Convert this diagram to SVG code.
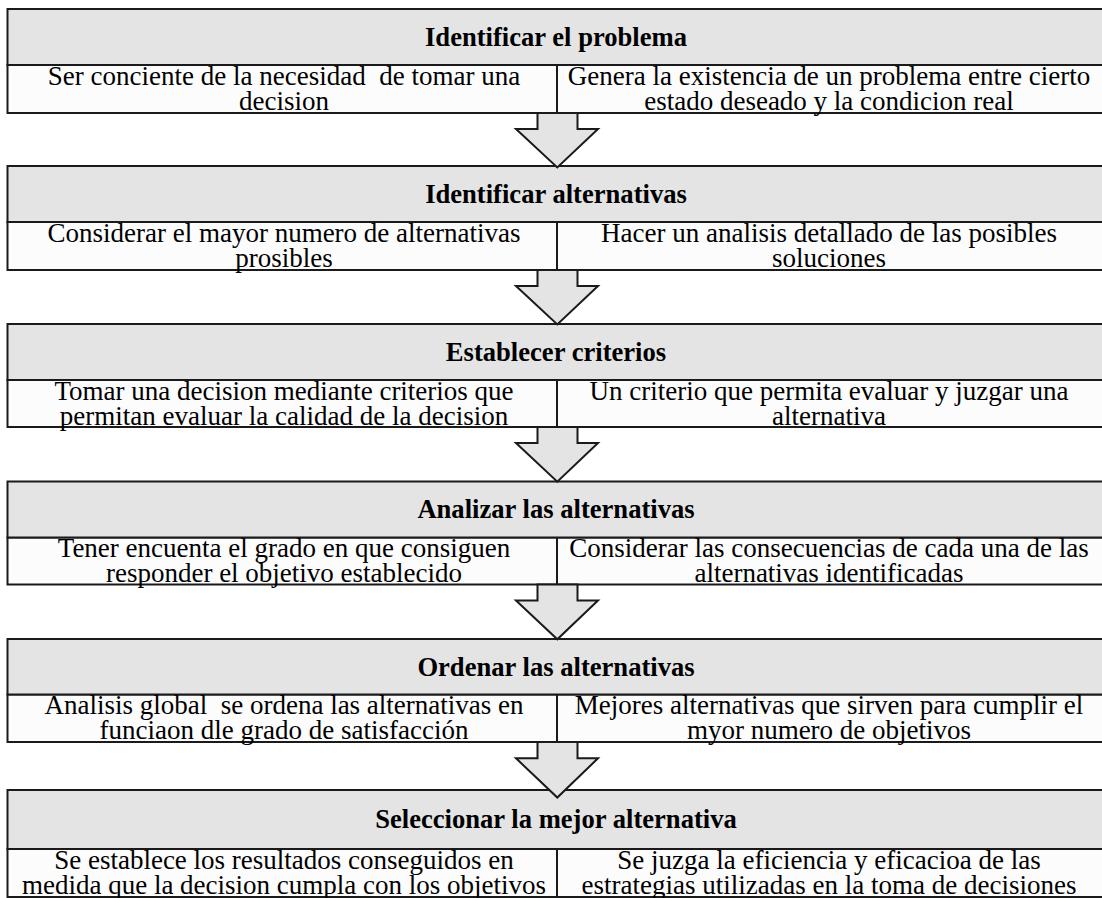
<svg xmlns="http://www.w3.org/2000/svg" width="1102" height="898" viewBox="0 0 1102 898">
<style>
.hd{fill:#e4e4e4;stroke:#1a1a1a;stroke-width:2}
.sb{fill:#fcfcfc;stroke:#1a1a1a;stroke-width:2}
.ln{stroke:#1a1a1a;stroke-width:2}
.ar{fill:#e4e4e4;stroke:#1a1a1a;stroke-width:2;stroke-linejoin:miter}
text{font-family:"Liberation Serif",serif;fill:#000;white-space:pre;text-anchor:middle}
.t{font-size:26.6px;font-weight:bold}
.b{font-size:27px;font-weight:normal}
</style>
<rect width="1102" height="898" fill="#fff"/>

<g id="stage1">
<rect class="sb" x="7.5" y="65" width="1096" height="48"/>
<line class="ln" x1="557" y1="65" x2="557" y2="113"/>
<rect class="hd" x="7.5" y="9" width="1096" height="56"/>
<text class="t" x="556" y="45.5">Identificar el problema</text>
<text class="b" x="284" y="85">Ser conciente de la necesidad  de tomar una</text>
<text class="b" x="284" y="110">decision</text>
<text class="b" x="829" y="85">Genera la existencia de un problema entre cierto</text>
<text class="b" x="829" y="110">estado deseado y la condicion real</text>
</g>

<g id="stage2">
<rect class="sb" x="7.5" y="222" width="1096" height="48"/>
<line class="ln" x1="557" y1="222" x2="557" y2="270"/>
<rect class="hd" x="7.5" y="166" width="1096" height="56"/>
<text class="t" x="556" y="202.7">Identificar alternativas</text>
<text class="b" x="284" y="242">Considerar el mayor numero de alternativas</text>
<text class="b" x="284" y="267">prosibles</text>
<text class="b" x="829" y="242">Hacer un analisis detallado de las posibles</text>
<text class="b" x="829" y="267">soluciones</text>
</g>

<g id="stage3">
<rect class="sb" x="7.5" y="380" width="1096" height="47"/>
<line class="ln" x1="557" y1="380" x2="557" y2="427"/>
<rect class="hd" x="7.5" y="324" width="1096" height="56"/>
<text class="t" x="556" y="360.7">Establecer criterios</text>
<text class="b" x="284" y="399.5">Tomar una decision mediante criterios que</text>
<text class="b" x="284" y="424.5">permitan evaluar la calidad de la decision</text>
<text class="b" x="829" y="399.5">Un criterio que permita evaluar y juzgar una</text>
<text class="b" x="829" y="424.5">alternativa</text>
</g>

<g id="stage4">
<rect class="sb" x="7.5" y="537.5" width="1096" height="47"/>
<line class="ln" x1="557" y1="537.5" x2="557" y2="584.5"/>
<rect class="hd" x="7.5" y="481.5" width="1096" height="56"/>
<text class="t" x="556" y="518.2">Analizar las alternativas</text>
<text class="b" x="284" y="556.5">Tener encuenta el grado en que consiguen</text>
<text class="b" x="284" y="581.5">responder el objetivo establecido</text>
<text class="b" x="829" y="556.5">Considerar las consecuencias de cada una de las</text>
<text class="b" x="829" y="581.5">alternativas identificadas</text>
</g>

<g id="stage5">
<rect class="sb" x="7.5" y="694.5" width="1096" height="47.5"/>
<line class="ln" x1="557" y1="694.5" x2="557" y2="742"/>
<rect class="hd" x="7.5" y="639" width="1096" height="55.5"/>
<text class="t" x="556" y="675.7">Ordenar las alternativas</text>
<text class="b" x="284" y="714">Analisis global  se ordena las alternativas en</text>
<text class="b" x="284" y="739">funciaon dle grado de satisfacción</text>
<text class="b" x="829" y="714">Mejores alternativas que sirven para cumplir el</text>
<text class="b" x="829" y="739">myor numero de objetivos</text>
</g>

<g id="stage6">
<rect class="sb" x="7.5" y="849" width="1096" height="48"/>
<line class="ln" x1="557" y1="849" x2="557" y2="898"/>
<rect class="hd" x="7.5" y="790" width="1096" height="59"/>
<text class="t" x="556" y="827.5">Seleccionar la mejor alternativa</text>
<text class="b" x="284" y="869">Se establece los resultados conseguidos en</text>
<text class="b" x="284" y="894">medida que la decision cumpla con los objetivos</text>
<text class="b" x="829" y="869">Se juzga la eficiencia y eficacioa de las</text>
<text class="b" x="829" y="894">estrategias utilizadas en la toma de decisiones</text>
</g>

<g id="connectors">
<polygon class="ar" points="537.5,113 577.5,113 577.5,129 598,129 557.3,167.5 516,129 537.5,129"/>
<polygon class="ar" points="537.5,270 577.5,270 577.5,286 598,286 557.3,324.5 516,286 537.5,286"/>
<polygon class="ar" points="537.5,427 577.5,427 577.5,443 598,443 557.3,481.7 516,443 537.5,443"/>
<polygon class="ar" points="537.5,584.5 577.5,584.5 577.5,600.5 598,600.5 557.3,639.3 516,600.5 537.5,600.5"/>
<polygon class="ar" points="537.5,742 577.5,742 577.5,758.3 598,758.3 557.3,797.5 516,758.3 537.5,758.3"/>
</g>
</svg>
